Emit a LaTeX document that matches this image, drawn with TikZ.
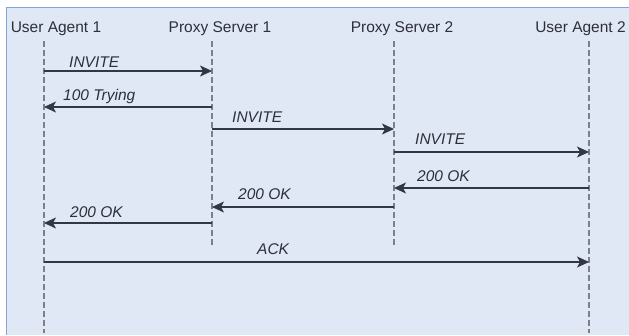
\documentclass[tikz,border=0pt]{standalone}
\usepackage{fontspec}
\setmainfont{Liberation Sans}
\usepackage{tikz}
\usetikzlibrary{
  arrows.meta,
  positioning,
  calc
}
\definecolor{panelbg}{RGB}{225,232,245}
\definecolor{paneledge}{RGB}{130,165,220}
\definecolor{msgline}{RGB}{50,55,70}
\definecolor{lifegray}{RGB}{125,128,138}
\definecolor{labeltext}{RGB}{45,48,58}

\begin{document}
\begin{tikzpicture}[x=1pt, y=-1pt,
  actor/.style={anchor=base, inner sep=0pt, font=\fontsize{15.5}{18}\selectfont, text=labeltext},
  lifeline/.style={draw=lifegray, line width=1.1pt, dash pattern=on 6pt off 3pt},
  msg/.style={draw=msgline, line width=1.1pt, -{Stealth[length=12pt, width=11pt, inset=3pt]}},
  msglabel/.style={anchor=base west, inner sep=0pt, font=\fontsize{15.5}{18}\selectfont\itshape, text=labeltext}]
  \useasboundingbox (0,0) rectangle (629,335);
  % panel
  \fill[white] (0,0) rectangle (629,335);
  \fill[panelbg] (6.5,7.5) rectangle (629,335);
  \draw[paneledge, line width=1pt] (6.5,335) -- (6.5,7.5) -- (629,7.5);

  % participants and their lifelines
  \node[actor] (ua1) at (56,32) {User Agent 1};
  \node[actor] (ps1) at (220,32) {Proxy Server 1};
  \node[actor] (ps2) at (402,32) {Proxy Server 2};
  \node[actor] (ua2) at (580.5,32) {User Agent 2};
  \coordinate (ua1top) at (44,41);  \coordinate (ua1end) at (44,333);
  \coordinate (ps1top) at (212,41); \coordinate (ps1end) at (212,247);
  \coordinate (ps2top) at (394,41); \coordinate (ps2end) at (394,247);
  \coordinate (ua2top) at (589,41); \coordinate (ua2end) at (589,333);
  \foreach \who in {ua1, ps1, ps2, ua2}
    \draw[lifeline] (\who top) -- (\who end);

  % messages
  \draw[msg] (ua1top |- 0,71) -- (ps1top |- 0,71);
  \node[msglabel] (m1) at (69,67) {INVITE};
  \draw[msg] (ps1top |- 0,107) -- (ua1top |- 0,107);
  \node[msglabel] (m2) at (63,100) {100 Trying};
  \draw[msg] (ps1top |- 0,129) -- (ps2top |- 0,129);
  \node[msglabel] (m3) at (232,122) {INVITE};
  \draw[msg] (ps2top |- 0,152) -- (ua2top |- 0,152);
  \node[msglabel] (m4) at (415,144) {INVITE};
  \draw[msg] (ua2top |- 0,188) -- (ps2top |- 0,188);
  \node[msglabel] (m5) at (417,181) {200 OK};
  \draw[msg] (ps2top |- 0,207) -- (ps1top |- 0,207);
  \node[msglabel] (m6) at (238,199) {200 OK};
  \draw[msg] (ps1top |- 0,223) -- (ua1top |- 0,223);
  \node[msglabel] (m7) at (70,217) {200 OK};
  \draw[msg] (ua1top |- 0,262) -- (ua2top |- 0,262);
  \node[msglabel] (m8) at (257,254) {ACK};
\end{tikzpicture}
\end{document}
